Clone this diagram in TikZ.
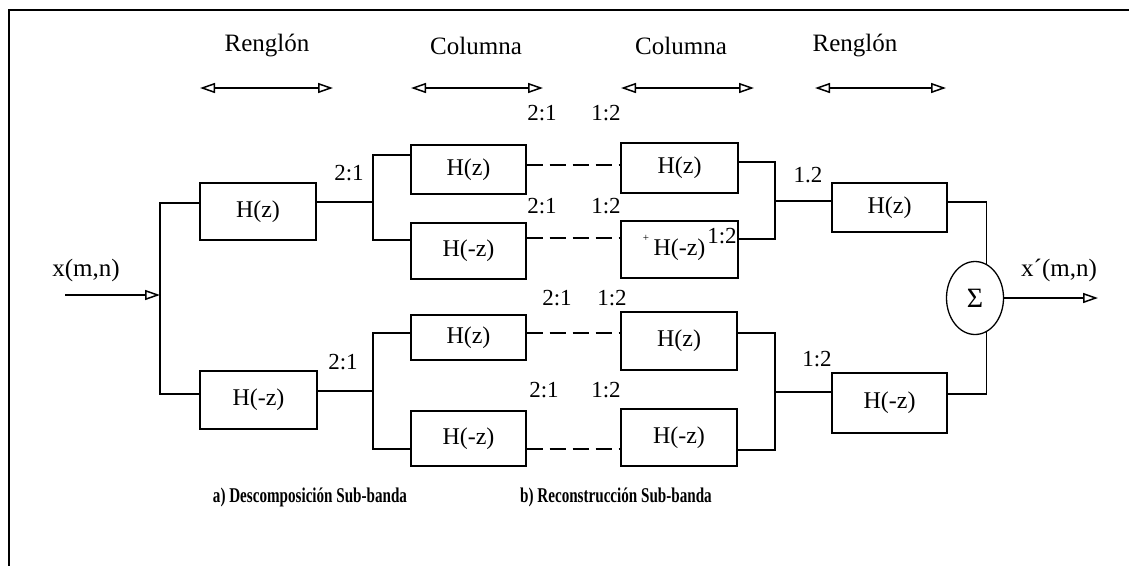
\documentclass[tikz,border=0pt]{standalone}
\usepackage{fontspec}
\setmainfont{Liberation Serif}
\newfontfamily\capfont{Liberation Serif}[FakeStretch=0.72]
\usetikzlibrary{arrows.meta,shapes.geometric}
\begin{document}
\begin{tikzpicture}[x=1pt,y=-1pt,
  wire/.style={line width=1.3pt},
  filt/.style={draw,line width=1.3pt,inner sep=0pt,font=\fontsize{24}{26}\selectfont},
  ratio/.style={inner sep=0pt,font=\fontsize{23}{25}\selectfont},
  head/.style={inner sep=0pt,font=\fontsize{25}{27}\selectfont},
  captext/.style={inner sep=0pt,font=\capfont\bfseries\fontsize{21}{23}\selectfont},
  tip/.style={wire,-{Triangle[open,length=15pt,width=10pt,line width=1.5pt]}},
  twoway/.style={wire,{Triangle[open,length=15pt,width=10pt,line width=1.5pt]}-{Triangle[open,length=15pt,width=10pt,line width=1.5pt]}},
  link/.style={wire,dash pattern=on 16pt off 7pt}]
\useasboundingbox (0,0) rectangle (1129,566);

% frame (top and left edges)
\draw[line width=1.8pt] (1129,10) -- (9,10) -- (9,566);

% direction headers
\node[head] (h1) at (267,46) {Renglón};
\node[head] (h2) at (476,46) {Columna};
\node[head] (h3) at (681,46) {Columna};
\node[head] (h4) at (855,46) {Renglón};
\coordinate (a1l) at (200,88); \coordinate (a1r) at (333,88);
\coordinate (a2l) at (411,88); \coordinate (a2r) at (543,88);
\coordinate (a3l) at (621,88); \coordinate (a3r) at (754,88);
\coordinate (a4l) at (815,88); \coordinate (a4r) at (946,88);
\draw[twoway] (a1l) -- (a1r);
\draw[twoway] (a2l) -- (a2r);
\draw[twoway] (a3l) -- (a3r);
\draw[twoway] (a4l) -- (a4r);

% row filters (analysis)
\node[filt,minimum width=116pt,minimum height=57pt] (rz)  at (258,211.5) {H(z)};
\node[filt,minimum width=117pt,minimum height=58pt] (rmz) at (258.5,400) {H(-z)};
% column filters (analysis)
\node[filt,minimum width=115pt,minimum height=49pt] (c1) at (468.5,169.5) {H(z)};
\node[filt,minimum width=115pt,minimum height=56pt] (c2) at (468.5,251) {H(-z)};
\node[filt,minimum width=115pt,minimum height=45pt] (c3) at (468.5,337.5) {H(z)};
\node[filt,minimum width=115pt,minimum height=55pt] (c4) at (468.5,438.5) {H(-z)};
% column filters (synthesis)
\node[filt,minimum width=117pt,minimum height=50pt] (d1) at (679.5,168) {H(z)};
\node[filt,minimum width=117pt,minimum height=57pt] (d2) at (679.5,249.5) {H(-z)};
\node[filt,minimum width=116pt,minimum height=58pt] (d3) at (679,341) {H(z)};
\node[filt,minimum width=116pt,minimum height=57pt] (d4) at (679,437.5) {H(-z)};
% row filters (synthesis)
\node[filt,minimum width=115pt,minimum height=49pt] (e1) at (889.5,207.5) {H(z)};
\node[filt,minimum width=115pt,minimum height=60pt] (e2) at (889.5,403) {H(-z)};
% adder
\node[draw,ellipse,line width=1.3pt,minimum width=57pt,minimum height=73pt,inner sep=0pt,
      font=\fontsize{28}{30}\selectfont] (sum) at (975,298) {Σ};

% input and output
\node[head] (xin) at (86,270) {x(m,n)};
\node[head] (xout) at (1059,270) {x´(m,n)};
\coordinate (src) at (65,295);
\coordinate (sp) at (160,295);
\coordinate (dst) at (1098,298);
\draw[tip] (src) -- (sp);
\draw[tip] (sum.east) -- (dst);

% analysis wiring
\draw[wire] (rz.west |- 0,203) -| (sp) |- (rmz.west |- 0,394);
\coordinate (j1) at (373,202);
\coordinate (j2) at (373,391);
\draw[wire] (rz.east |- 0,202) -- (j1);
\draw[wire] (c1.west |- 0,155) -| (j1) |- (c2.west |- 0,240);
\draw[wire] (rmz.east |- 0,391) -- (j2);
\draw[wire] (c3.west |- 0,333) -| (j2) |- (c4.west |- 0,449);

% subsampled channels
\draw[link] (c1.east |- 0,165) -- (d1.west |- 0,165);
\draw[link] (c2.east |- 0,238) -- (d2.west |- 0,238);
\draw[link] (c3.east |- 0,333) -- (d3.west |- 0,333);
\draw[link] (c4.east |- 0,449) -- (d4.west |- 0,449);

% synthesis wiring
\coordinate (j3) at (775,201);
\coordinate (j4) at (775,392);
\draw[wire] (d1.east |- 0,162) -| (j3) |- (d2.east |- 0,239);
\draw[wire] (j3) -- (e1.west |- 0,201);
\draw[wire] (d3.east |- 0,333) -| (j4) |- (d4.east |- 0,450);
\draw[wire] (j4) -- (e2.west |- 0,392);
\draw[wire] (e1.east |- 0,202) -| (sum.72);
\draw[wire] (e2.east |- 0,394) -| (sum.-72);

% rate labels
\node[ratio] (r1) at (349,173) {2:1};
\node[ratio] (r2) at (343,362) {2:1};
\node[ratio] (r3) at (542,113) {2:1};
\node[ratio] (r4) at (606,113) {1:2};
\node[ratio] (r5) at (542,206) {2:1};
\node[ratio] (r6) at (606,206) {1:2};
\node[ratio] (r7) at (557,298) {2:1};
\node[ratio] (r8) at (612,298) {1:2};
\node[ratio] (r9) at (544,390) {2:1};
\node[ratio] (r10) at (606,390) {1:2};
\node[ratio] (r11) at (722,236) {1:2};
\node[inner sep=0pt,font=\fontsize{11}{11}\selectfont] (mk) at (646,238) {+};
\node[ratio] (r12) at (808,175) {1.2};
\node[ratio] (r13) at (817,359) {1:2};

% captions
\node[captext] (ca) at (310,497) {a) Descomposición Sub-banda};
\node[captext] (cb) at (616,497) {b) Reconstrucción Sub-banda};
\end{tikzpicture}
\end{document}
